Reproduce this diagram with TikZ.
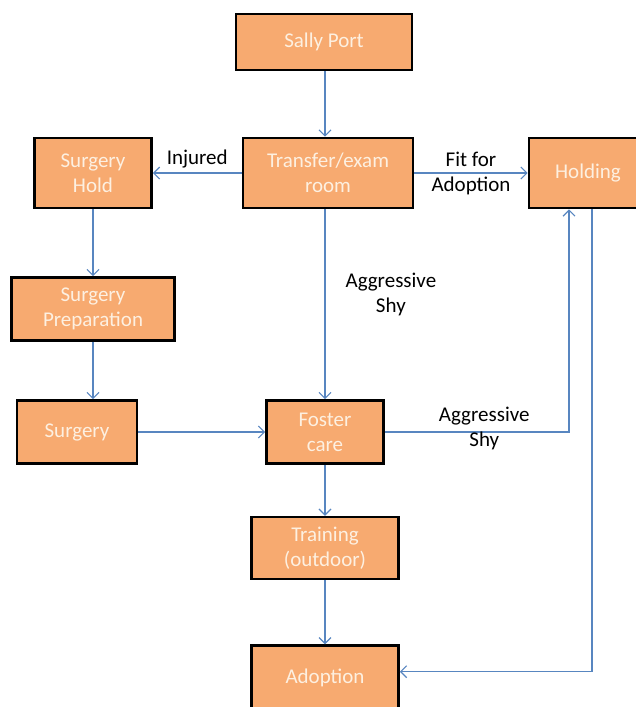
\documentclass[tikz,border=0pt]{standalone}
\usepackage{fontspec}
\setmainfont{Carlito}
\usetikzlibrary{arrows.meta,positioning}
\definecolor{boxorange}{RGB}{247,170,112}
\definecolor{boxtext}{RGB}{253,240,225}
\definecolor{flowblue}{RGB}{88,134,192}

\begin{document}
\begin{tikzpicture}[
  x=1pt, y=-1pt,
  font=\fontsize{21}{25}\selectfont, >={Straight Barb[length=6pt,width=12pt]},
  box/.style  = {draw, line width=2.6pt, fill=boxorange, text=boxtext,
                 align=center, inner sep=0pt},
  flow/.style = {->, draw=flowblue, line width=1.2pt},
  lbl/.style  = {align=center, text=black, inner sep=0pt}
]
\useasboundingbox (0,0) rectangle (636,707);
\clip (0,0) rectangle (636,707);

\node[box, minimum width=176pt, minimum height=56pt] (sally) at (324,42) {Sally Port};
\node[box, minimum width=170pt, minimum height=70pt] (exam) at (328,173) {Transfer/exam\\room};
\node[box, minimum width=117pt, minimum height=70pt] (hold) at (93,173) {Surgery\\Hold};
\node[box, minimum width=118pt, minimum height=70pt] (holding) at (588,173) {Holding};
\node[box, minimum width=163pt, minimum height=63pt] (prep) at (93,309) {Surgery\\Preparation};
\node[box, minimum width=120pt, minimum height=63pt] (surg) at (77,432) {Surgery};
\node[box, minimum width=117pt, minimum height=63pt] (foster) at (325,432) {Foster\\care};
\node[box, minimum width=147pt, minimum height=62pt, below=51pt of foster] (train) {Training\\(outdoor)};
\node[box, minimum width=147pt, minimum height=64pt, below=64pt of train] (adopt) {Adoption};

\draw[flow] (sally.south -| foster) -- (exam.north -| foster);
\draw[flow] (exam) -- node[lbl, above=4pt] {Injured} (hold);
\draw[flow] (exam) -- node[lbl] {Fit for\\Adoption} (holding);
\draw[flow] (exam.south -| foster) -- node[lbl, right=20pt, pos=0.45] {Aggressive\\Shy} (foster);
\draw[flow] (hold) -- (prep);
\draw[flow] (prep.south -| hold) -- (surg.north -| hold);
\draw[flow] (surg) -- (foster);
\draw[flow] (foster.east) -| node[lbl, pos=0.27, yshift=4pt] {Aggressive\\Shy}
  ([xshift=-19pt]holding.south);
\draw[flow] (foster) -- (train);
\draw[flow] (train) -- (adopt);
\draw[flow] ([xshift=4pt]holding.south) |- ([yshift=6pt]adopt.east);

\end{tikzpicture}
\end{document}
